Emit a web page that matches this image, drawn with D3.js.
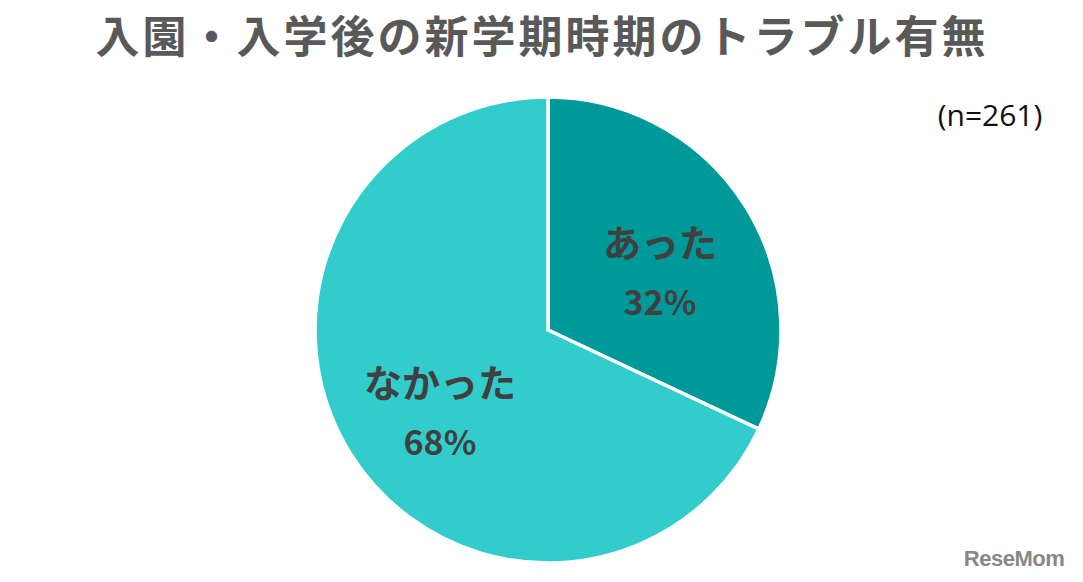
<!DOCTYPE html>
<html><head><meta charset="utf-8">
<script src="https://cdn.jsdelivr.net/npm/d3@7"></script>
<style>body{margin:0;background:#fff;}svg{display:block;}</style>
</head><body>
<svg id="c" width="1083" height="582"></svg>
<script>
const categories = ["あった", "なかった"];
const values = [32, 68];
const colors = ["#009999", "#33CCCC"];
const titleText = "入園・入学後の新学期時期のトラブル有無";
const noteText = "(n=261)";

const svg = d3.select("#c");
const cx = 548, cy = 330, r = 233;

svg.append("text").attr("x", 542).attr("y", 53).attr("text-anchor", "middle")
  .attr("font-family", "Noto Sans CJK JP").attr("font-weight", "bold")
  .attr("font-size", 44).attr("letter-spacing", 3).attr("fill", "#595959").text(titleText);

svg.append("text").attr("x", 990).attr("y", 126).attr("text-anchor", "middle")
  .attr("font-family", "Open Sans, Liberation Sans").attr("font-size", 30).attr("fill", "#111").text(noteText);

const pie = d3.pie().sort(null).value(d => d)(values);
const arc = d3.arc().innerRadius(0).outerRadius(r);
const g = svg.append("g").attr("transform", `translate(${cx},${cy})`);
g.selectAll("path").data(pie).join("path")
  .attr("d", arc).attr("fill", (d, i) => colors[i])
  .attr("stroke", "#fff").attr("stroke-width", 3.5).attr("stroke-linejoin", "miter");

const labelPos = [[112, -73], [-108, 67]];
pie.forEach((d, i) => {
  const t = g.append("text").attr("text-anchor", "middle")
    .attr("font-family", "Noto Sans CJK JP").attr("font-weight", "bold").attr("fill", "#404040");
  t.append("tspan").attr("x", labelPos[i][0]).attr("y", labelPos[i][1]).attr("font-size", 38).text(categories[i]);
  t.append("tspan").attr("x", labelPos[i][0]).attr("y", labelPos[i][1] + 58).attr("font-size", 34).text(values[i] + "%");
});

svg.append("text").attr("x", 1014).attr("y", 566).attr("text-anchor", "middle")
  .attr("font-family", "Liberation Sans").attr("font-weight", "bold")
  .attr("font-size", 22).attr("fill", "#888").attr("letter-spacing", -0.5).text("ReseMom");
</script>
</body></html>
